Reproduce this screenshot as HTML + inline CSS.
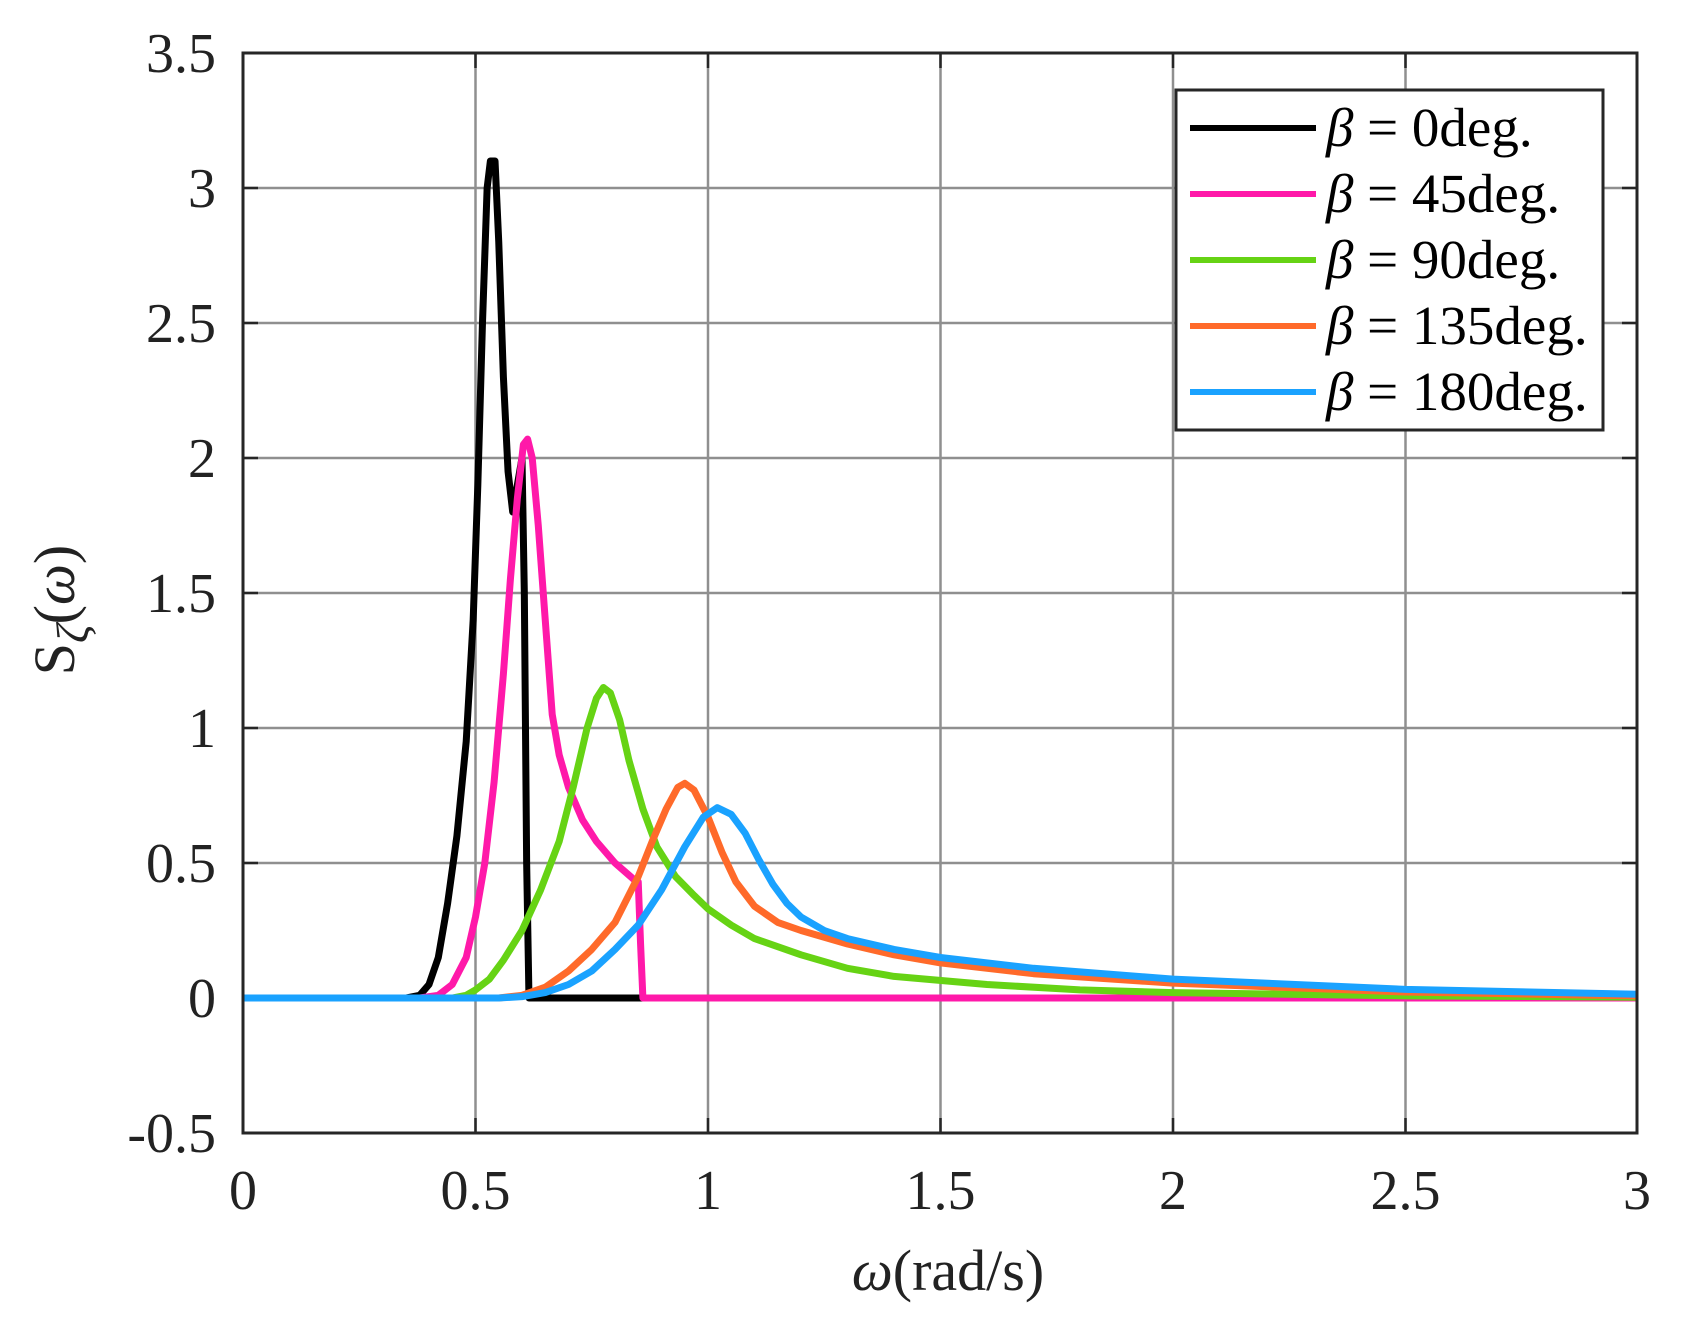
<!DOCTYPE html>
<html><head><meta charset="utf-8"><style>
html,body{margin:0;padding:0;background:#fff;}
svg{display:block;}
text{font-family:"Liberation Serif",serif;fill:#222;}
</style></head><body>
<svg width="1706" height="1326" viewBox="0 0 1706 1326" xmlns="http://www.w3.org/2000/svg">
<rect x="0" y="0" width="1706" height="1326" fill="#fff"/>
<g stroke="#8f8f8f" stroke-width="2.5">
<line x1="475.5" y1="53" x2="475.5" y2="1133"/>
<line x1="708" y1="53" x2="708" y2="1133"/>
<line x1="940.5" y1="53" x2="940.5" y2="1133"/>
<line x1="1173" y1="53" x2="1173" y2="1133"/>
<line x1="1405.5" y1="53" x2="1405.5" y2="1133"/>
<line x1="243" y1="188" x2="1637" y2="188"/>
<line x1="243" y1="323" x2="1637" y2="323"/>
<line x1="243" y1="458" x2="1637" y2="458"/>
<line x1="243" y1="593" x2="1637" y2="593"/>
<line x1="243" y1="728" x2="1637" y2="728"/>
<line x1="243" y1="863" x2="1637" y2="863"/>
<line x1="243" y1="998" x2="1637" y2="998"/>
</g>
<g stroke="#262626" stroke-width="2.5">
<path d="M475.5 1133v-15M708 1133v-15M940.5 1133v-15M1173 1133v-15M1405.5 1133v-15M475.5 53v15M708 53v15M940.5 53v15M1173 53v15M1405.5 53v15"/>
<path d="M243 188h15M243 323h15M243 458h15M243 593h15M243 728h15M243 863h15M243 998h15M1637 188h-15M1637 323h-15M1637 458h-15M1637 593h-15M1637 728h-15M1637 863h-15M1637 998h-15"/>
</g>
<g transform="matrix(465,0,0,-270,243,998)" fill="none">
<polyline vector-effect="non-scaling-stroke" stroke="#000" stroke-width="7" stroke-linejoin="round" fill="none" points="0,0 0.35,0 0.38,0.01 0.40,0.05 0.42,0.15 0.44,0.35 0.46,0.6 0.48,0.95 0.495,1.4 0.505,1.9 0.515,2.5 0.525,3.0 0.532,3.1 0.542,3.1 0.55,2.8 0.56,2.3 0.57,1.95 0.58,1.8 0.59,1.9 0.60,2.0 0.605,1.5 0.61,0.5 0.615,0 0.86,0"/>
<polyline vector-effect="non-scaling-stroke" stroke="#FF19A9" stroke-width="7" stroke-linejoin="round" fill="none" points="0.38,0 0.42,0.01 0.45,0.05 0.48,0.15 0.50,0.3 0.52,0.5 0.54,0.8 0.56,1.2 0.575,1.55 0.59,1.85 0.603,2.05 0.612,2.07 0.622,2.0 0.635,1.75 0.65,1.4 0.665,1.05 0.68,0.9 0.70,0.78 0.73,0.66 0.76,0.58 0.80,0.5 0.84,0.44 0.85,0.43 0.855,0.2 0.86,0 3,0"/>
<polyline vector-effect="non-scaling-stroke" stroke="#66D314" stroke-width="7" stroke-linejoin="round" fill="none" points="0,0 0.45,0 0.48,0.01 0.50,0.03 0.53,0.07 0.56,0.14 0.60,0.25 0.64,0.4 0.68,0.58 0.71,0.78 0.74,1.0 0.76,1.11 0.775,1.15 0.79,1.13 0.81,1.03 0.83,0.88 0.86,0.7 0.89,0.56 0.93,0.45 0.97,0.38 1.0,0.33 1.05,0.27 1.1,0.22 1.2,0.16 1.3,0.11 1.4,0.08 1.6,0.05 1.8,0.03 2.0,0.02 2.5,0.008 3,0.003"/>
<polyline vector-effect="non-scaling-stroke" stroke="#FF6A2A" stroke-width="7" stroke-linejoin="round" fill="none" points="0,0 0.55,0 0.6,0.01 0.65,0.04 0.7,0.1 0.75,0.18 0.8,0.28 0.85,0.45 0.88,0.58 0.91,0.7 0.935,0.78 0.95,0.795 0.97,0.77 1.0,0.67 1.03,0.54 1.06,0.43 1.1,0.34 1.15,0.28 1.2,0.25 1.3,0.2 1.4,0.16 1.5,0.13 1.7,0.09 2.0,0.055 2.5,0.022 3,0.008"/>
<polyline vector-effect="non-scaling-stroke" stroke="#1AA2FF" stroke-width="7" stroke-linejoin="round" fill="none" points="0,0 0.55,0 0.6,0.005 0.65,0.02 0.7,0.05 0.75,0.1 0.8,0.18 0.85,0.27 0.9,0.4 0.95,0.56 0.99,0.67 1.02,0.705 1.05,0.68 1.08,0.61 1.11,0.51 1.14,0.42 1.17,0.35 1.2,0.3 1.25,0.25 1.3,0.22 1.4,0.18 1.5,0.15 1.7,0.11 2.0,0.07 2.5,0.032 3,0.014"/>
</g>
<rect x="243" y="53" width="1394" height="1080" fill="none" stroke="#262626" stroke-width="3"/>
<g font-size="56" text-anchor="end">
<text x="216" y="72">3.5</text>
<text x="216" y="207">3</text>
<text x="216" y="342">2.5</text>
<text x="216" y="477">2</text>
<text x="216" y="612">1.5</text>
<text x="216" y="747">1</text>
<text x="216" y="882">0.5</text>
<text x="216" y="1017">0</text>
<text x="216" y="1152">-0.5</text>
</g>
<g font-size="56" text-anchor="middle">
<text x="243" y="1209">0</text>
<text x="475.5" y="1209">0.5</text>
<text x="708" y="1209">1</text>
<text x="940.5" y="1209">1.5</text>
<text x="1173" y="1209">2</text>
<text x="1405.5" y="1209">2.5</text>
<text x="1637" y="1209">3</text>
</g>
<text x="948" y="1290" font-size="58" text-anchor="middle"><tspan font-style="italic">ω</tspan>(rad/s)</text>
<text transform="translate(74,610) rotate(-90)" font-size="58" text-anchor="middle">S<tspan font-style="italic" font-size="46" dy="14">ζ</tspan><tspan dy="-14">(</tspan><tspan font-style="italic">ω</tspan>)</text>
<rect x="1176" y="90" width="427" height="340" fill="#fff" stroke="#262626" stroke-width="3"/>
<g stroke-width="6">
<line x1="1190" y1="128" x2="1316" y2="128" stroke="#000"/>
<line x1="1190" y1="194" x2="1316" y2="194" stroke="#FF19A9"/>
<line x1="1190" y1="260" x2="1316" y2="260" stroke="#66D314"/>
<line x1="1190" y1="326" x2="1316" y2="326" stroke="#FF6A2A"/>
<line x1="1190" y1="392" x2="1316" y2="392" stroke="#1AA2FF"/>
</g>
<g font-size="55">
<text x="1326" y="146" style="fill:#000"><tspan font-style="italic">β</tspan> = 0deg.</text>
<text x="1326" y="212" style="fill:#000"><tspan font-style="italic">β</tspan> = 45deg.</text>
<text x="1326" y="278" style="fill:#000"><tspan font-style="italic">β</tspan> = 90deg.</text>
<text x="1326" y="344" style="fill:#000"><tspan font-style="italic">β</tspan> = 135deg.</text>
<text x="1326" y="410" style="fill:#000"><tspan font-style="italic">β</tspan> = 180deg.</text>
</g>
</svg>
</body></html>
